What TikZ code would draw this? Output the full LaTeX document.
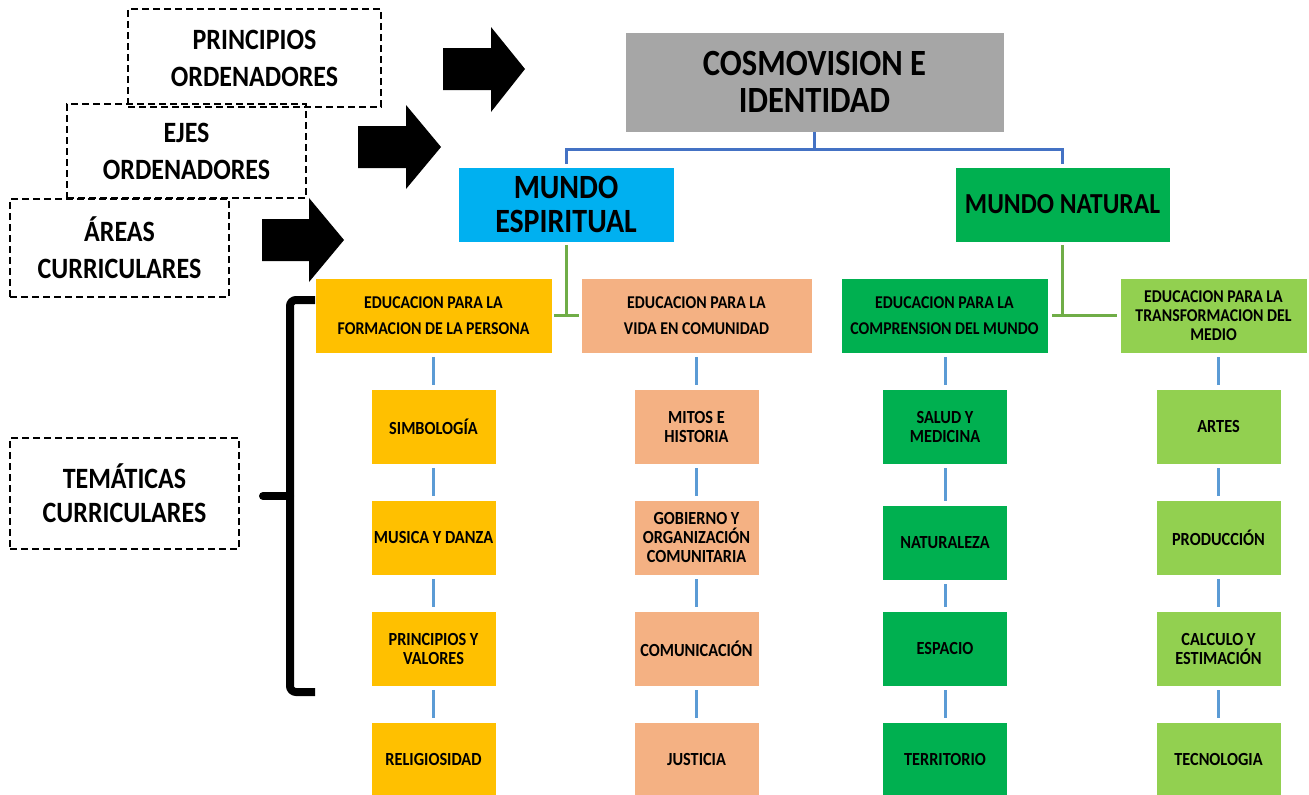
\documentclass[tikz,border=0pt]{standalone}
\usepackage{fontspec}
\setmainfont{Carlito}[FakeStretch=0.88]
\definecolor{cgray}{HTML}{A6A6A6}
\definecolor{cblue}{HTML}{00B0F0}
\definecolor{cgreen}{HTML}{00B050}
\definecolor{cyellow}{HTML}{FFC000}
\definecolor{cpeach}{HTML}{F4B183}
\definecolor{clgreen}{HTML}{92D050}
\definecolor{dblue}{HTML}{4472C4}
\definecolor{lblue}{HTML}{5B9BD5}
\definecolor{lgline}{HTML}{70AD47}
\begin{document}
\begin{tikzpicture}[x=1pt,y=-1pt,
  dbox/.style={draw=black, line width=2.5pt, dash pattern=on 7pt off 4pt, inner sep=0pt, align=center,
    font=\bfseries\fontsize{29.5}{37}\selectfont},
  bx/.style={inner sep=0pt, align=center, text=black, draw=white, line width=0.8pt},
  topic/.style={bx, minimum width=125pt, minimum height=75pt, font=\bfseries\fontsize{18.5}{19}\selectfont},
  area/.style={bx, minimum height=75pt, font=\bfseries\fontsize{18}{26}\selectfont},
  tline/.style={draw=lblue, line width=3pt, shorten <=4pt, shorten >=4pt},
  gline/.style={draw=lgline, line width=3pt},
  bline/.style={draw=dblue, line width=3pt},
  barrow/.style={fill=black},
  brack/.style={draw=black, line width=8pt}
]
\useasboundingbox (0,0) rectangle (1309,795);

% dashed label boxes
\node[dbox, minimum width=253pt, minimum height=98pt] (pri) at (254.5,58) {PRINCIPIOS\\ORDENADORES};
\node[dbox, minimum width=239pt, minimum height=94pt] (ejes) at (186.5,151) {EJES\\ORDENADORES};
\node[dbox, minimum width=219pt, minimum height=98pt] (are) at (119.5,248) {ÁREAS\\CURRICULARES};
\node[dbox, minimum width=229pt, minimum height=111pt, font=\bfseries\fontsize{29.5}{34}\selectfont] (tem) at (124.5,493.5) {TEMÁTICAS\\CURRICULARES};

% block arrows
\fill[barrow] (443,48) -- (491,48) -- (491,27) -- (525,69) -- (491,112) -- (491,90) -- (443,90) -- cycle;
\fill[barrow] (358,126) -- (406,126) -- (406,105) -- (441,147) -- (406,189) -- (406,168) -- (358,168) -- cycle;
\fill[barrow] (262,219) -- (309,219) -- (309,198) -- (344,240) -- (309,282) -- (309,261) -- (262,261) -- cycle;

% top
\node[bx, fill=cgray, minimum width=379pt, minimum height=100pt, font=\bfseries\fontsize{37}{37}\selectfont] (cos) at (814.5,82) {COSMOVISION E\\IDENTIDAD};
\node[bx, fill=cblue, minimum width=216pt, minimum height=75pt, font=\bfseries\fontsize{34}{34}\selectfont] (mes) at (566,204.5) {MUNDO\\ESPIRITUAL};
\node[bx, fill=cgreen, minimum width=215pt, minimum height=75pt, font=\bfseries\fontsize{29}{34}\selectfont] (mna) at (1062.5,204.5) {MUNDO NATURAL};

% areas
\node[area, fill=cyellow, minimum width=237pt] (a1) at (433.5,315.5) {EDUCACION PARA LA\\FORMACION DE LA PERSONA};
\node[area, fill=cpeach, minimum width=231pt] (a2) at (696.5,315.5) {EDUCACION PARA LA\\VIDA EN COMUNIDAD};
\node[area, fill=cgreen, minimum width=207pt] (a3) at (944.5,315.5) {EDUCACION PARA LA\\COMPRENSION DEL MUNDO};
\node[area, fill=clgreen, minimum width=187pt, font=\bfseries\fontsize{18}{19}\selectfont] (a4) at (1213.5,315.5) {EDUCACION PARA LA\\TRANSFORMACION DEL\\MEDIO};

% topics column 1
\node[topic, fill=cyellow] (t11) at (433.5,426.5) {SIMBOLOGÍA};
\node[topic, fill=cyellow] (t12) at (433.5,537.5) {MUSICA Y DANZA};
\node[topic, fill=cyellow] (t13) at (433.5,648.5) {PRINCIPIOS Y\\VALORES};
\node[topic, fill=cyellow] (t14) at (433.5,759.5) {RELIGIOSIDAD};
% column 2
\node[topic, fill=cpeach] (t21) at (696.5,426.5) {MITOS E\\HISTORIA};
\node[topic, fill=cpeach] (t22) at (696.5,537.5) {GOBIERNO Y\\ORGANIZACIÓN\\COMUNITARIA};
\node[topic, fill=cpeach] (t23) at (696.5,648.5) {COMUNICACIÓN};
\node[topic, fill=cpeach] (t24) at (696.5,759.5) {JUSTICIA};
% column 3
\node[topic, fill=cgreen] (t31) at (945,426.5) {SALUD Y\\MEDICINA};
\node[topic, fill=cgreen] (t32) at (945,542.5) {NATURALEZA};
\node[topic, fill=cgreen] (t33) at (945,648.5) {ESPACIO};
\node[topic, fill=cgreen] (t34) at (945,759.5) {TERRITORIO};
% column 4
\node[topic, fill=clgreen] (t41) at (1218.5,426.5) {ARTES};
\node[topic, fill=clgreen] (t42) at (1218.5,537.5) {PRODUCCIÓN};
\node[topic, fill=clgreen] (t43) at (1218.5,648.5) {CALCULO Y\\ESTIMACIÓN};
\node[topic, fill=clgreen] (t44) at (1218.5,759.5) {TECNOLOGIA};

% top connector
\coordinate (jt) at (814.5,149);
\draw[bline] (cos.south) -- (jt);
\draw[bline, shorten <=3pt, shorten >=3pt] (mes.north) |- (jt) -| (mna.north);

% green connectors
\draw[gline, shorten <=3pt] (mes.south) -- (mes.south |- a1.east);
\draw[gline, shorten <=2pt, shorten >=2pt] (a1.east) -- (a2.west);
\draw[gline, shorten <=3pt] (mna.south) -- (mna.south |- a3.east);
\draw[gline, shorten <=4pt, shorten >=3pt] (a3.east) -- (a4.west);

% topic connectors
\foreach \c in {1,2,3,4}{
  \draw[tline] (a\c.south -| t\c1.north) -- (t\c1.north);
  \draw[tline] (t\c1.south) -- (t\c2.north);
  \draw[tline] (t\c2.south) -- (t\c3.north);
  \draw[tline] (t\c3.south) -- (t\c4.north);
}

% bracket
\coordinate (bt) at (315,300);
\coordinate (bb) at (315,692);
\coordinate (bm) at (290,496);
\coordinate (bk) at (263,496);
\draw[brack, rounded corners=6pt] (bt) -- (bm |- bt) -- (bm |- bb) -- (bb);
\draw[brack, line cap=round] (bm) -- (bk);
\end{tikzpicture}
\end{document}
